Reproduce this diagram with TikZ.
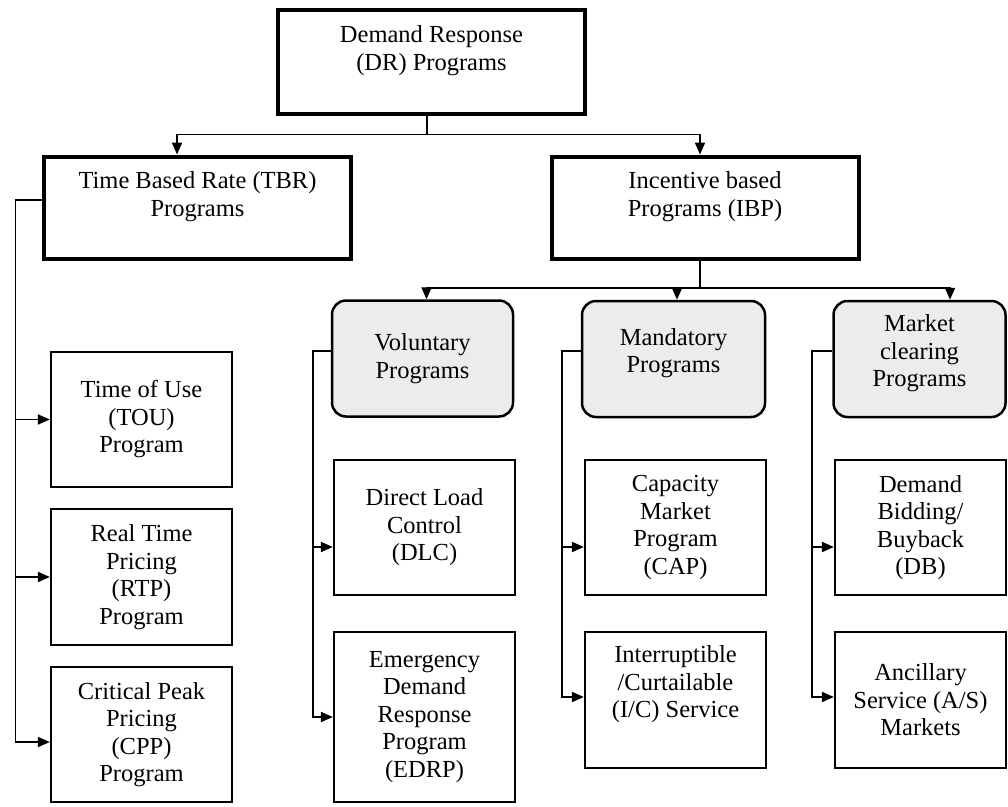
\documentclass[tikz,border=0pt]{standalone}
\usepackage{fontspec}
\setmainfont{Liberation Serif}
\usetikzlibrary{arrows.meta}
\definecolor{boxgray}{RGB}{236,236,236}
\begin{document}
\begin{tikzpicture}[x=1pt,y=-1pt,
  every node/.style={font=\fontsize{24.5}{27.5}\selectfont, align=center, inner sep=0pt},
  thickbox/.style={draw, line width=4pt, minimum width=307pt, minimum height=102pt, text depth=27pt},
  roundbox/.style={draw, line width=2.5pt, rounded corners=14pt, fill=boxgray, minimum width=181pt, minimum height=116pt},
  leafbox/.style={draw, line width=2.3pt, minimum width=181pt, minimum height=135pt},
  conn/.style={line width=1.9pt},
  arr/.style={line width=1.9pt, -{Triangle[length=12pt,width=10pt]}}]
\useasboundingbox (0,0) rectangle (1008,806);

% top levels
\node[thickbox, minimum width=307pt, minimum height=104pt] (top) at (431.5,61.5) {Demand Response\\(DR) Programs};
\node[thickbox] (TBR) at (197.5,207.5) {Time Based Rate (TBR)\\Programs};
\node[thickbox] (IBP) at (705,207.5) {Incentive based\\Programs (IBP)};

% IBP categories
\node[roundbox] (vol) at (422.5,358.5) {Voluntary\\Programs};
\node[roundbox, minimum width=183pt, text depth=17pt] (man) at (673.5,359) {Mandatory\\Programs};
\node[roundbox, minimum width=172pt, text depth=17pt] (mkt) at (919.5,359) {Market\\clearing\\Programs};

% TBR leaves
\node[leafbox] (TOU) at (141.5,419.5) {Time of Use\\(TOU)\\Program};
\node[leafbox, minimum height=136pt] (RTP) at (141.5,577) {Real Time\\Pricing\\(RTP)\\Program};
\node[leafbox] (CPP) at (141.5,734.5) {Critical Peak\\Pricing\\(CPP)\\Program};

% Voluntary leaves
\node[leafbox] (DLC) at (424.5,527.5) {Direct Load\\Control\\(DLC)};
\node[leafbox, minimum height=170pt] (EDRP) at (424.5,717) {Emergency\\Demand\\Response\\Program\\(EDRP)};

% Mandatory leaves
\node[leafbox] (CAP) at (675.5,527.5) {Capacity\\Market\\Program\\(CAP)};
\node[leafbox, minimum height=136pt, text depth=37pt] (IC) at (675.5,700) {Interruptible\\/Curtailable\\(I/C) Service};

% Market clearing leaves
\node[leafbox, minimum width=171pt] (DB) at (920.5,527.5) {Demand\\Bidding/\\Buyback\\(DB)};
\node[leafbox, minimum width=171pt, minimum height=136pt] (AS) at (920.5,700) {Ancillary\\Service (A/S)\\Markets};

% top-level connectors
\coordinate (j1) at (427,134.5);
\draw[conn] (top.south -| j1) -- (j1);
\draw[arr] (j1) -| ([xshift=-20.5pt]TBR.north);
\draw[arr] (j1) -| ([xshift=-5pt]IBP.north);

\coordinate (j2) at (700,288);
\draw[conn] (IBP.south -| j2) -- (j2);
\draw[arr] (j2) -| ([xshift=4pt]vol.north);
\draw[arr] (j2) -| ([xshift=3.5pt]man.north);
\draw[arr] (j2) -| ([xshift=30.5pt]mkt.north);

% TBR trunk
\coordinate (tL) at (15.5,0);
\coordinate (cppIn) at ([yshift=-7.5pt]CPP.west);
\draw[arr] ([yshift=7.5pt]TBR.west) -| (tL |- cppIn) -- (cppIn);
\draw[arr] (tL |- TOU.west) -- (TOU.west);
\draw[arr] (tL |- RTP.west) -- (RTP.west);

% Voluntary trunk
\coordinate (tV) at (313,0);
\coordinate (dlcIn) at ([yshift=-19.5pt]DLC.west);
\draw[arr] ([yshift=7.5pt]vol.west) -| (tV |- EDRP.west) -- (EDRP.west);
\draw[arr] (tV |- dlcIn) -- (dlcIn);

% Mandatory trunk
\coordinate (tM) at (562,0);
\coordinate (capIn) at ([yshift=-19.5pt]CAP.west);
\coordinate (icIn) at ([yshift=3pt]IC.west);
\draw[arr] ([yshift=8pt]man.west) -| (tM |- icIn) -- (icIn);
\draw[arr] (tM |- capIn) -- (capIn);

% Market clearing trunk
\coordinate (tK) at (812,0);
\coordinate (dbIn) at ([yshift=-19.5pt]DB.west);
\coordinate (asIn) at ([yshift=3pt]AS.west);
\draw[arr] ([yshift=8pt]mkt.west) -| (tK |- asIn) -- (asIn);
\draw[arr] (tK |- dbIn) -- (dbIn);
\end{tikzpicture}
\end{document}
